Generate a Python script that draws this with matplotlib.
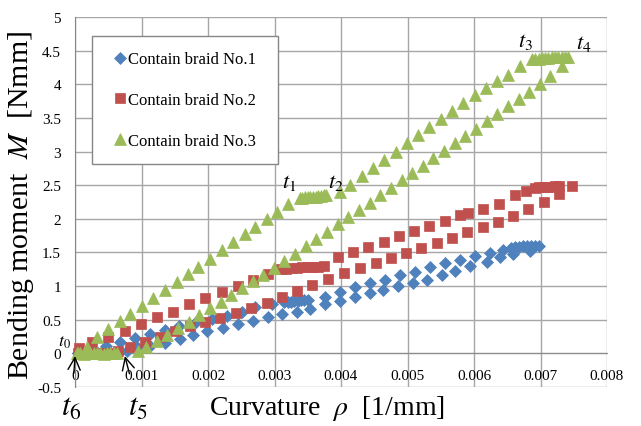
import numpy as np
import matplotlib
matplotlib.use('Agg')
import matplotlib.pyplot as plt

plt.rcParams['font.family'] = ['Liberation Serif', 'DejaVu Serif']
plt.rcParams['mathtext.fontset'] = 'stix'

# ---- data (curvature [1/mm], moment [Nmm])
labels = ['Contain braid No.1', 'Contain braid No.2', 'Contain braid No.3']

# No.1 : loading, hold, loading, hold, unloading, hold
curv1 = [0.00005, 0.00025, 0.00046, 0.00068, 0.00090, 0.00113, 0.00135, 0.00157, 0.00182, 0.00206,
         0.00228, 0.00251, 0.00270, 0.00296,
         0.00315, 0.00320, 0.00325, 0.00330, 0.00335, 0.00340, 0.00345, 0.00350,
         0.00376, 0.00398, 0.00421, 0.00444, 0.00466, 0.00489, 0.00511, 0.00534, 0.00556, 0.00579,
         0.00602, 0.00624, 0.00644,
         0.00655, 0.00661, 0.00667, 0.00673, 0.00679, 0.00685, 0.00691, 0.00697,
         0.00684, 0.00659, 0.00639, 0.00620, 0.00594, 0.00571, 0.00552, 0.00529, 0.00508, 0.00486,
         0.00463, 0.00444, 0.00421, 0.00398, 0.00376, 0.00353, 0.00334, 0.00312, 0.00290, 0.00268,
         0.00245, 0.00222, 0.00198, 0.00177, 0.00158, 0.00135, 0.00113, 0.00093, 0.00078,
         0.00065, 0.00050, 0.00035, 0.00020, 0.00005]
moment1 = [0.01, 0.06, 0.11, 0.17, 0.23, 0.29, 0.34, 0.40, 0.46, 0.51,
           0.56, 0.62, 0.69, 0.73,
           0.76, 0.77, 0.77, 0.78, 0.78, 0.79, 0.79, 0.79,
           0.84, 0.91, 0.99, 1.05, 1.09, 1.17, 1.21, 1.28, 1.34, 1.39,
           1.45, 1.49, 1.54,
           1.57, 1.58, 1.58, 1.59, 1.59, 1.59, 1.60, 1.60,
           1.52, 1.48, 1.43, 1.36, 1.30, 1.22, 1.17, 1.09, 1.05, 1.00,
           0.94, 0.90, 0.84, 0.78, 0.73, 0.66, 0.62, 0.58, 0.54, 0.48,
           0.43, 0.38, 0.33, 0.27, 0.21, 0.16, 0.11, 0.09, 0.03,
           0.0, 0.0, 0.0, 0.0, 0.0]

# No.2
curv2 = [0.00006, 0.00026, 0.00050, 0.00075, 0.00099, 0.00123, 0.00147, 0.00172, 0.00196, 0.00221,
         0.00245, 0.00268, 0.00290,
         0.00310, 0.00318, 0.00326, 0.00334, 0.00342, 0.00350, 0.00358, 0.00366, 0.00374,
         0.00395, 0.00418, 0.00441, 0.00464, 0.00487, 0.00510, 0.00533, 0.00556, 0.00579, 0.00591,
         0.00614, 0.00638, 0.00662, 0.00678,
         0.00692, 0.00698, 0.00704, 0.00710, 0.00716, 0.00722, 0.00728, 0.00747,
         0.00728, 0.00705, 0.00681, 0.00659, 0.00636, 0.00613, 0.00590, 0.00567, 0.00544, 0.00521,
         0.00498, 0.00475, 0.00452, 0.00429, 0.00404, 0.00380, 0.00356, 0.00334, 0.00311, 0.00289,
         0.00265, 0.00242, 0.00218, 0.00195, 0.00173, 0.00150, 0.00128, 0.00105, 0.00083, 0.00065,
         0.00055, 0.00045, 0.00035, 0.00025, 0.00015, 0.00005]
moment2 = [0.08, 0.17, 0.24, 0.33, 0.44, 0.54, 0.62, 0.73, 0.83, 0.91,
           1.00, 1.09, 1.18,
           1.25, 1.26, 1.27, 1.27, 1.28, 1.28, 1.29, 1.29, 1.30,
           1.43, 1.50, 1.58, 1.66, 1.74, 1.82, 1.89, 1.97, 2.05, 2.08,
           2.15, 2.22, 2.35, 2.41,
           2.46, 2.47, 2.47, 2.48, 2.48, 2.49, 2.49, 2.49,
           2.37, 2.25, 2.15, 2.04, 1.96, 1.88, 1.80, 1.72, 1.64, 1.56,
           1.49, 1.42, 1.35, 1.27, 1.19, 1.11, 1.02, 0.93, 0.84, 0.75,
           0.67, 0.60, 0.53, 0.47, 0.40, 0.33, 0.25, 0.17, 0.09, 0.03,
           0.0, 0.0, 0.0, 0.0, 0.0, 0.0]

# No.3
curv3 = [0.00003, 0.00018, 0.00033, 0.00050, 0.00068, 0.00083, 0.00100, 0.00117, 0.00135, 0.00153,
         0.00170, 0.00185, 0.00203, 0.00221, 0.00238, 0.00256, 0.00271, 0.00289, 0.00304, 0.00320,
         0.00338, 0.00342, 0.00346, 0.00350, 0.00354, 0.00358, 0.00362, 0.00366, 0.00370, 0.00374,
         0.00378,
         0.00398, 0.00414, 0.00431, 0.00448, 0.00465, 0.00482, 0.00499, 0.00516, 0.00533, 0.00550,
         0.00567, 0.00584, 0.00601, 0.00618, 0.00635, 0.00651, 0.00669,
         0.00687, 0.00692, 0.00697, 0.00702, 0.00707, 0.00712, 0.00717, 0.00722, 0.00727, 0.00732,
         0.00737, 0.00742,
         0.00732, 0.00714, 0.00699, 0.00683, 0.00667, 0.00651, 0.00635, 0.00619, 0.00603, 0.00587,
         0.00571, 0.00555, 0.00539, 0.00523, 0.00507, 0.00491, 0.00475, 0.00459, 0.00443, 0.00427,
         0.00411, 0.00395, 0.00379, 0.00363, 0.00347, 0.00331, 0.00315, 0.00299, 0.00283, 0.00267,
         0.00251, 0.00235, 0.00219, 0.00203, 0.00187, 0.00171, 0.00155, 0.00139, 0.00123, 0.00107,
         0.00095,
         0.00063, 0.00058, 0.00053, 0.00048, 0.00043, 0.00038, 0.00033, 0.00028, 0.00023, 0.00018,
         0.00013, 0.00008, 0.00004]
moment3 = [0.01, 0.10, 0.24, 0.36, 0.48, 0.58, 0.70, 0.82, 0.94, 1.06,
           1.18, 1.29, 1.40, 1.53, 1.65, 1.78, 1.88, 1.99, 2.10, 2.22,
           2.31, 2.31, 2.32, 2.32, 2.33, 2.33, 2.33, 2.34, 2.34, 2.35,
           2.35,
           2.40, 2.51, 2.63, 2.76, 2.88, 3.00, 3.12, 3.24, 3.36, 3.48,
           3.60, 3.72, 3.84, 3.95, 4.05, 4.14, 4.27,
           4.37, 4.38, 4.38, 4.39, 4.39, 4.39, 4.40, 4.40, 4.41, 4.41,
           4.41, 4.41,
           4.27, 4.12, 4.00, 3.89, 3.78, 3.67, 3.56, 3.45, 3.34, 3.23,
           3.12, 3.01, 2.90, 2.79, 2.68, 2.57, 2.46, 2.35, 2.24, 2.13,
           2.02, 1.92, 1.81, 1.70, 1.59, 1.48, 1.38, 1.27, 1.17, 1.07,
           0.97, 0.87, 0.77, 0.67, 0.57, 0.47, 0.37, 0.27, 0.18, 0.10,
           0.03,
           0.00, 0.00, 0.01, 0.00, -0.01, 0.00, 0.00, 0.01, 0.00, 0.00,
           -0.01, 0.00, 0.00]

xticks = [0, 0.001, 0.002, 0.003, 0.004, 0.005, 0.006, 0.007, 0.008]
xtick_labels = ['0', '0.001', '0.002', '0.003', '0.004', '0.005', '0.006', '0.007', '0.008']
yticks = [-0.5, 0, 0.5, 1, 1.5, 2, 2.5, 3, 3.5, 4, 4.5, 5]
ytick_labels = ['-0.5', '0', '0.5', '1', '1.5', '2', '2.5', '3', '3.5', '4', '4.5', '5']

# event labels: (text, x, y, size)
events = [(r'$t_{0}$', -0.000165, 0.17, 13),
          (r'$t_{1}$', 0.00322, 2.55, 16),
          (r'$t_{2}$', 0.00392, 2.55, 16),
          (r'$t_{3}$', 0.00678, 4.64, 16),
          (r'$t_{4}$', 0.00765, 4.61, 16)]
arrows = [(r'$t_{6}$', -0.00005, -0.80, 0.0, -0.04),
          (r'$t_{5}$', 0.00095, -0.80, 0.00075, -0.04)]

colors = ['#4F81BD', '#C0504D', '#9BBB59']
markers = ['D', 's', '^']
sizes = [5.8, 7.8, 9.0]

fig = plt.figure(figsize=(6.41, 4.27), dpi=100)
ax = fig.add_axes([75 / 641, 39 / 427, 532 / 641, 370 / 427])

for cv, mv, col, mk, ms, lab in zip([curv1, curv2, curv3], [moment1, moment2, moment3],
                                    colors, markers, sizes, labels):
    ax.plot(cv, mv, linestyle='none', marker=mk, ms=ms, color=col, mec=col, mew=0.5,
            label=lab, clip_on=False, zorder=3)

ax.set_xlim(0, 0.008)
ax.set_ylim(-0.5, 5)
ax.set_xticks(xticks)
ax.set_xticklabels(xtick_labels)
ax.set_yticks(yticks)
ax.set_yticklabels(ytick_labels)
ax.grid(True, color='#a6a6a6', lw=1.0)
ax.set_axisbelow(True)
for s in ['top', 'right']:
    ax.spines[s].set_visible(False)
ax.spines['bottom'].set_position(('data', 0))
ax.spines['bottom'].set_color('#8c8c8c')
ax.spines['left'].set_color('#868686')
ax.tick_params(length=0, labelsize=11)
ax.tick_params(axis='x', pad=11)
ax.tick_params(axis='y', pad=10)

for txt, x, y, fs in events:
    ax.text(x, y, txt, fontsize=fs, ha='center', va='center', clip_on=False)
for txt, x, y, xa, ya in arrows:
    ax.annotate(txt, xy=(xa, ya), xytext=(x, y), fontsize=22, ha='center', va='center',
                annotation_clip=False,
                arrowprops=dict(arrowstyle='->', color='black', lw=1.0, shrinkA=12, shrinkB=0))

leg = ax.legend(loc='upper left', mode='expand',
                bbox_to_anchor=(92 / 641, 1 - 160 / 427, 186 / 641, 123 / 427),
                bbox_transform=fig.transFigure, fontsize=12, numpoints=1,
                fancybox=False, edgecolor='#868686', framealpha=1, borderpad=0.93,
                labelspacing=1.48, handlelength=1.5, handletextpad=-0.27, borderaxespad=0)
leg.get_frame().set_linewidth(1.0)

fig.text(327 / 641, 1 - 409 / 427, r'Curvature  $\rho$  [1/mm]', fontsize=20,
         ha='center', va='center')
fig.text(21 / 641, 1 - 205 / 427, r'Bending moment  $M$  [Nmm]', fontsize=21.5,
         ha='center', va='center', rotation=90)

fig.savefig('out.png', dpi=100)
